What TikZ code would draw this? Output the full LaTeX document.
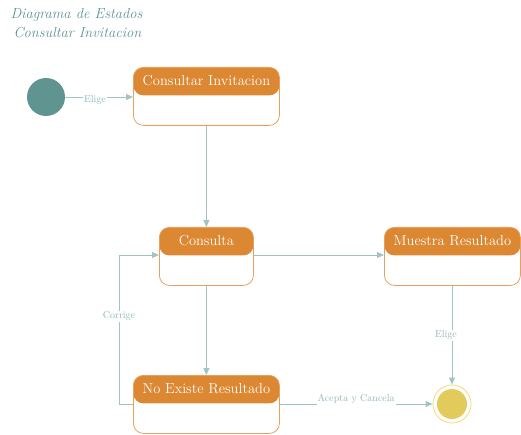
\documentclass[tikz,border=0pt]{standalone}
\usetikzlibrary{arrows.meta,calc}
\definecolor{hdr}{HTML}{DC8732}
\definecolor{bord}{HTML}{E6A060}
\definecolor{lnk}{HTML}{A3C4C4}
\definecolor{lbl}{HTML}{8FB8B8}
\definecolor{ttl}{HTML}{5C9494}
\definecolor{ini}{HTML}{5F9490}
\definecolor{fin}{HTML}{E3CB5B}
\definecolor{finring}{HTML}{F2D77A}
\begin{document}
\begin{tikzpicture}[x=1pt,y=-1pt,
  statebox/.style={draw=bord, line width=0.8pt, rounded corners=10pt, anchor=north west,
    inner sep=0pt, minimum height=58pt,
    path picture={\fill[hdr] (path picture bounding box.north west) rectangle
      ($(path picture bounding box.north east)+(0,28)$);}},
  sttext/.style={text=white, font=\fontsize{14.5}{16}\selectfont, anchor=center},
  conn/.style={draw=lnk, line width=0.8pt, -{Triangle[length=7pt,width=6pt]}},
  elbl/.style={text=lbl, fill=white, inner sep=1pt, font=\fontsize{10}{12}\selectfont}]
\useasboundingbox (0,0) rectangle (521,435);
% title
\node[anchor=west, text=ttl, font=\itshape\fontsize{14.5}{16}\selectfont] (t1) at (7,15) {Diagrama de Estados};
\node[anchor=west, text=ttl, font=\itshape\fontsize{14.5}{16}\selectfont] (t2) at (10,33) {Consultar Invitacion};
% initial and final
\node[circle, fill=ini, minimum size=38pt, inner sep=0pt] (ini) at (46,97) {};
\node[circle, draw=finring, line width=0.8pt, minimum size=38pt, inner sep=0pt] (fin) at (452,404) {};
\node[circle, fill=fin, minimum size=30pt, inner sep=0pt] (finc) at (452,404) {};
% states
\node[statebox, minimum width=146pt] (ci) at (133,67) {};
\node[statebox, minimum width=94pt] (co) at (159,227) {};
\node[statebox, minimum width=136pt] (mr) at (384,227) {};
\node[statebox, minimum width=146pt] (ne) at (133,375) {};
\node[sttext] (ci-t) at ($(ci.north)+(0,14)$) {Consultar Invitacion};
\node[sttext] (co-t) at ($(co.north)+(0,14)$) {Consulta};
\node[sttext] (mr-t) at ($(mr.north)+(0,14)$) {Muestra Resultado};
\node[sttext] (ne-t) at ($(ne.north)+(0,14)$) {No Existe Resultado};
\coordinate (co-h) at ($(co.north)+(0,28)$);
\coordinate (ne-h) at ($(ne.north)+(0,29)$);
\coordinate (corner-a) at (119,404);
\coordinate (corner-b) at (119,255);
% connectors
\draw[conn] (ini.east) -- node[elbl, pos=0.44, yshift=-3pt] {Elige} (ci.west |- ini);
\draw[conn] (ci.south) -- (co.north);
\draw[conn] (co.east |- co-h) -- (mr.west |- co-h);
\draw[conn] (co.south) -- (ne.north);
\draw[conn] (ne.west |- ne-h) -- (corner-a) -- node[elbl, pos=0.59] {Corrige} (corner-b) -- (co.west |- co-h);
\draw[conn] (fin.north |- mr.south) -- node[elbl, xshift=-6pt] {Elige} (fin.north);
\draw[conn] (ne.east |- ne-h) -- node[elbl, pos=0.5, yshift=5pt] {Acepta y Cancela} (fin.west);
\end{tikzpicture}
\end{document}
